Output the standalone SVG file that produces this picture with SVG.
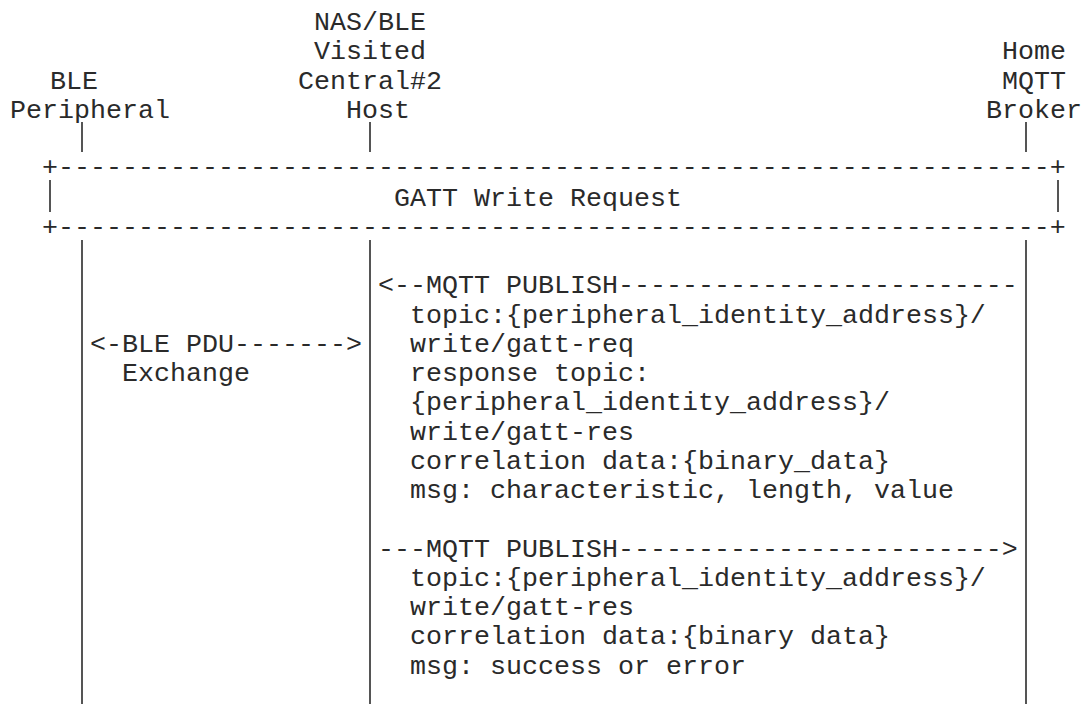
<svg xmlns="http://www.w3.org/2000/svg" width="1083" height="704" viewBox="0 0 1083 704">
<style>
.t{font-family:"Courier New","Nimbus Mono PS","FreeMono","Liberation Mono",monospace;font-size:26.667px;fill:#2a2a2a;white-space:pre}
.ll{stroke:#555;stroke-width:2;fill:none}
</style>
<rect width="1083" height="704" fill="#fff"/>
<g id="peripheral">
<text class="t" x="50" y="88.5">BLE</text>
<text class="t" x="10" y="117.75">Peripheral</text>
</g>
<g id="central">
<text class="t" x="314" y="30">NAS/BLE</text>
<text class="t" x="314" y="59.25">Visited</text>
<text class="t" x="298" y="88.5">Central#2</text>
<text class="t" x="346" y="117.75">Host</text>
</g>
<g id="broker">
<text class="t" x="1002" y="59.25">Home</text>
<text class="t" x="1002" y="88.5">MQTT</text>
<text class="t" x="986" y="117.75">Broker</text>
</g>
<g id="gatt-box">
<text class="t" x="42" y="174.5">+--------------------------------------------------------------+</text>
<line class="ll" x1="50" y1="180" x2="50" y2="212"/>
<line class="ll" x1="1058" y1="180" x2="1058" y2="212"/>
<text class="t" x="394" y="205.5">GATT Write Request</text>
<text class="t" x="42" y="234.75">+--------------------------------------------------------------+</text>
</g>
<g id="connectors">
<line class="ll" x1="82" y1="122" x2="82" y2="152"/>
<line class="ll" x1="370" y1="122" x2="370" y2="152"/>
<line class="ll" x1="1026" y1="122" x2="1026" y2="152"/>
<line class="ll" x1="82" y1="240" x2="82" y2="704"/>
<line class="ll" x1="370" y1="240" x2="370" y2="704"/>
<line class="ll" x1="1026" y1="240" x2="1026" y2="704"/>
</g>
<g id="msg-publish-req">
<text class="t" x="378" y="293.25">&lt;--MQTT PUBLISH-------------------------</text>
<text class="t" x="410" y="322.5">topic:{peripheral_identity_address}/</text>
<text class="t" x="410" y="351.75">write/gatt-req</text>
<text class="t" x="410" y="381">response topic:</text>
<text class="t" x="410" y="410.25">{peripheral_identity_address}/</text>
<text class="t" x="410" y="439.5">write/gatt-res</text>
<text class="t" x="410" y="468.75">correlation data:{binary_data}</text>
<text class="t" x="410" y="498">msg: characteristic, length, value</text>
</g>
<g id="msg-ble-pdu">
<text class="t" x="90" y="351.75">&lt;-BLE PDU-------&gt;</text>
<text class="t" x="122" y="381">Exchange</text>
</g>
<g id="msg-publish-res">
<text class="t" x="378" y="556.5">---MQTT PUBLISH------------------------&gt;</text>
<text class="t" x="410" y="585.75">topic:{peripheral_identity_address}/</text>
<text class="t" x="410" y="615">write/gatt-res</text>
<text class="t" x="410" y="644.25">correlation data:{binary data}</text>
<text class="t" x="410" y="673.5">msg: success or error</text>
</g>
</svg>
